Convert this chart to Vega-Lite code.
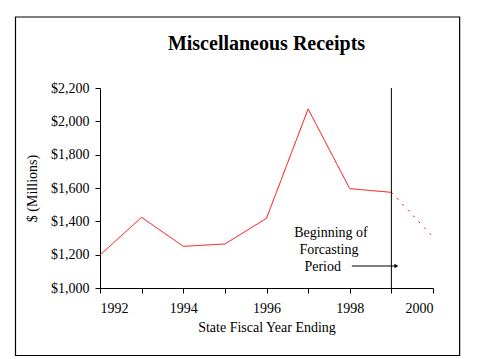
{
  "$schema": "https://vega.github.io/schema/vega-lite/v6.json",
  "width": 333,
  "height": 200,
  "autosize": {"type": "none"},
  "padding": {"left": 100, "top": 88, "right": 46, "bottom": 71},
  "background": "white",
  "title": {
    "text": "Miscellaneous Receipts",
    "font": "Liberation Serif",
    "fontSize": 20,
    "fontWeight": "bold",
    "color": "black",
    "anchor": "middle",
    "offset": -38
  },
  "config": {
    "view": {"stroke": null},
    "axis": {
      "labelFont": "Liberation Serif",
      "titleFont": "Liberation Serif",
      "labelFontSize": 14,
      "titleFontSize": 14,
      "titleFontWeight": "normal",
      "labelColor": "black",
      "titleColor": "black",
      "domainColor": "black",
      "tickColor": "black",
      "grid": false,
      "tickSize": 5,
      "labelOverlap": false
    }
  },
  "datasets": {
    "receipts": [
      {"year": 1992, "value": 1198, "period": "Actual"},
      {"year": 1993, "value": 1424, "period": "Actual"},
      {"year": 1994, "value": 1250, "period": "Actual"},
      {"year": 1995, "value": 1264, "period": "Actual"},
      {"year": 1996, "value": 1418, "period": "Actual"},
      {"year": 1997, "value": 2074, "period": "Actual"},
      {"year": 1998, "value": 1596, "period": "Actual"},
      {"year": 1999, "value": 1574, "period": "Actual"},
      {"year": 1999, "value": 1574, "period": "Forecast"},
      {"year": 2000, "value": 1306, "period": "Forecast"}
    ],
    "notes": [
      {"line": "Beginning of", "year": 1997.55, "value": 1330},
      {"line": "Forcasting", "year": 1997.5, "value": 1228},
      {"line": "Period", "year": 1997.35, "value": 1126}
    ],
    "arrow": [
      {"year": 1998.05, "year2": 1999.12, "value": 1132}
    ],
    "frame": [
      {"year": 1989.97, "year2": 2000.64, "value": 2626, "value2": 595}
    ],
    "forecastStart": [
      {"year": 1999, "value": 2200, "value2": 1000}
    ]
  },
  "encoding": {
    "x": {
      "field": "year",
      "type": "quantitative",
      "scale": {"domain": [1992, 2000], "nice": false, "zero": false},
      "axis": {
        "title": "State Fiscal Year Ending",
        "values": [1992, 1993, 1994, 1995, 1996, 1997, 1998, 1999, 2000],
        "labelExpr": "datum.value % 2 == 0 ? datum.value : ''",
        "labelPadding": 8,
        "titlePadding": 5,
        "labelOverlap": false
      }
    },
    "y": {
      "field": "value",
      "type": "quantitative",
      "scale": {"domain": [1000, 2200], "nice": false, "zero": false},
      "axis": {
        "title": "$ (Millions)",
        "values": [1000, 1200, 1400, 1600, 1800, 2000, 2200],
        "format": "$,d",
        "labelPadding": 6,
        "titlePadding": 11,
        "labelOverlap": false
      }
    }
  },
  "layer": [
    {
      "data": {"name": "receipts"},
      "mark": {"type": "line", "color": "red", "strokeWidth": 1, "clip": false},
      "encoding": {
        "detail": {"field": "period"},
        "strokeDash": {
          "field": "period",
          "type": "nominal",
          "scale": {"domain": ["Actual", "Forecast"], "range": [[1, 0], [2, 6]]},
          "legend": null
        }
      }
    },
    {
      "data": {"name": "frame"},
      "mark": {"type": "rect", "filled": false, "fill": "transparent", "stroke": "black", "strokeWidth": 1.2, "clip": false},
      "encoding": {
        "x2": {"field": "year2"},
        "y2": {"field": "value2"}
      }
    },
    {
      "data": {"name": "forecastStart"},
      "mark": {"type": "rule", "color": "black", "strokeWidth": 1},
      "encoding": {
        "y2": {"field": "value2"}
      }
    },
    {
      "data": {"name": "notes"},
      "mark": {"type": "text", "font": "Liberation Serif", "fontSize": 14, "color": "black", "align": "center", "baseline": "middle"},
      "encoding": {
        "text": {"field": "line"}
      }
    },
    {
      "data": {"name": "arrow"},
      "mark": {"type": "rule", "color": "black", "strokeWidth": 1},
      "encoding": {
        "x2": {"field": "year2"}
      }
    },
    {
      "data": {"name": "arrow"},
      "mark": {"type": "point", "shape": "triangle-right", "filled": true, "color": "black", "size": 20, "opacity": 1},
      "encoding": {
        "x": {"field": "year2", "type": "quantitative"}
      }
    }
  ]
}
